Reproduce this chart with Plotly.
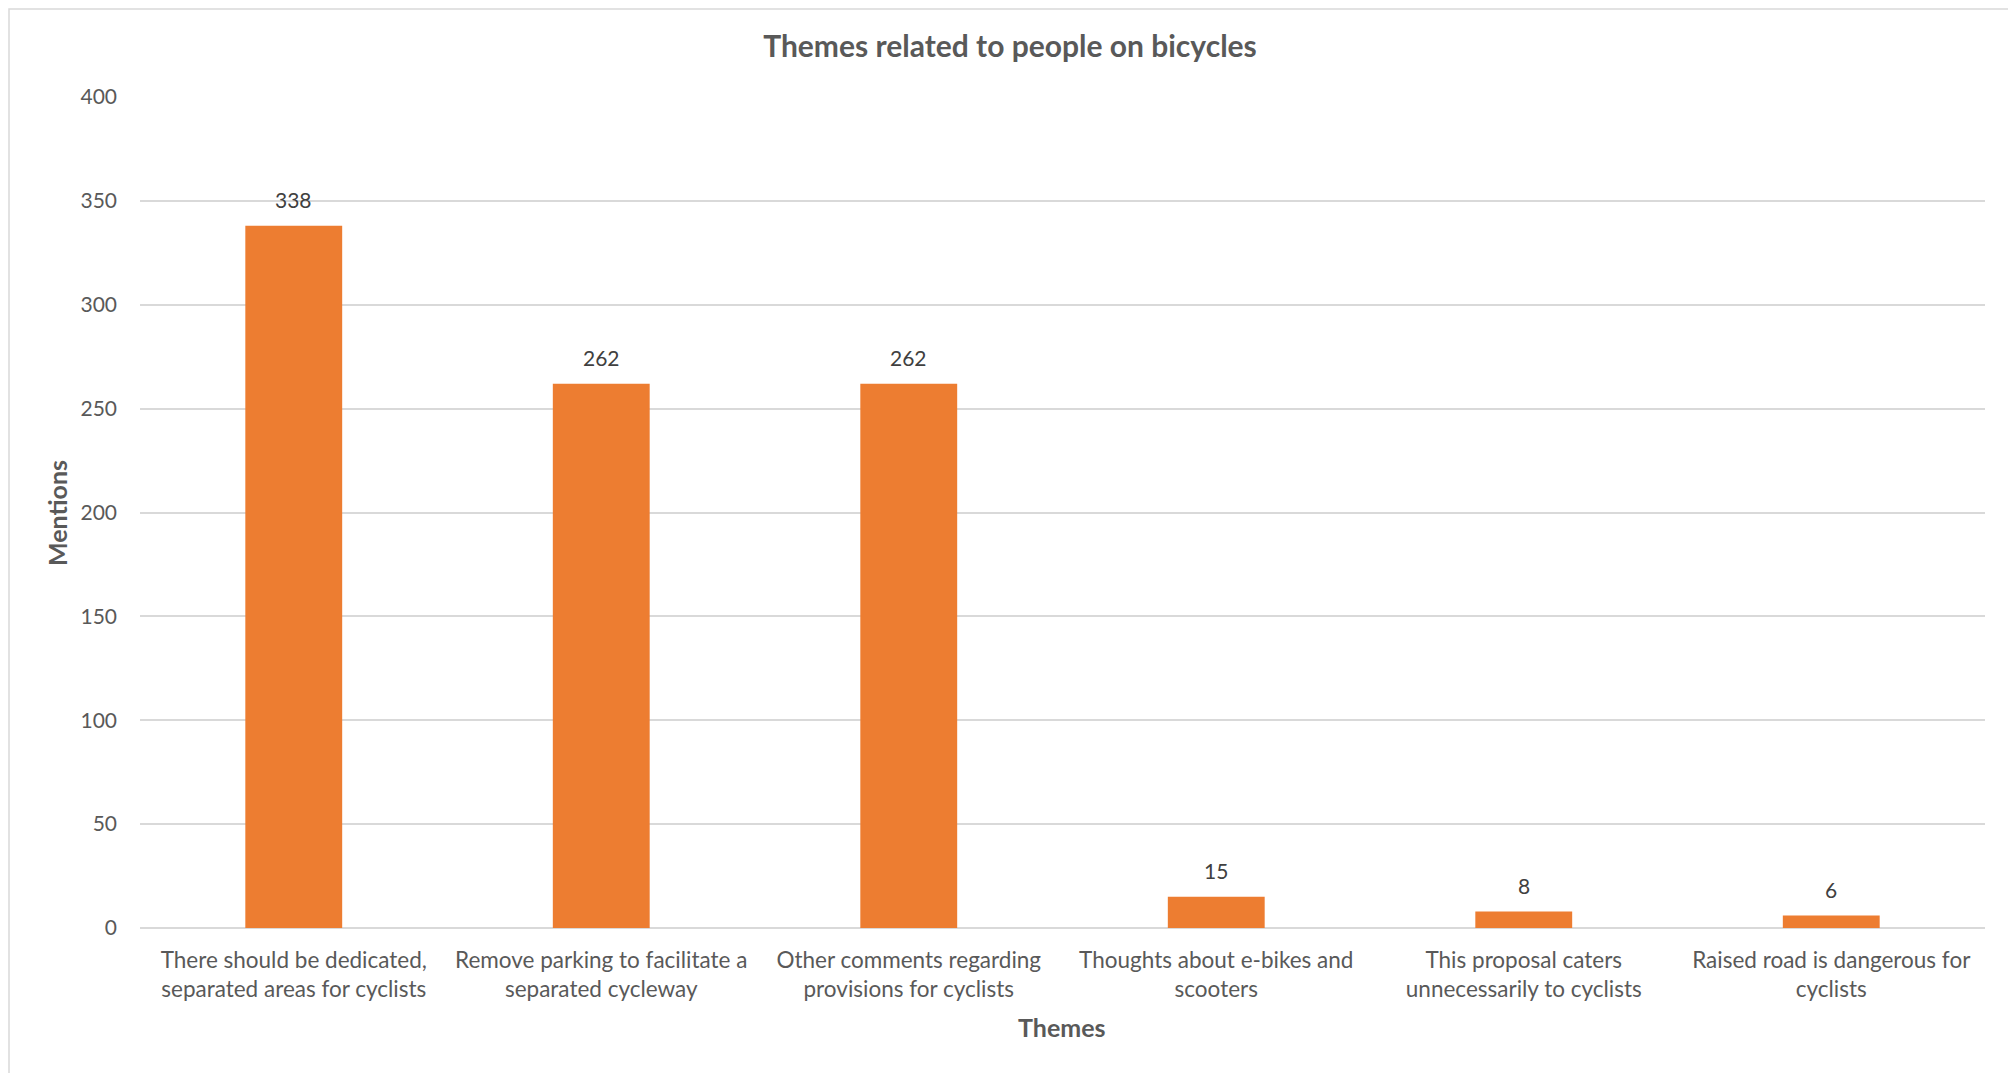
import plotly.graph_objects as go

categories = [
    "There should be dedicated,<br>separated areas for cyclists",
    "Remove parking to facilitate a<br>separated cycleway",
    "Other comments regarding<br>provisions for cyclists",
    "Thoughts about e-bikes and<br>scooters",
    "This proposal caters<br>unnecessarily to cyclists",
    "Raised road is dangerous for<br>cyclists",
]
mentions = [338, 262, 262, 15, 8, 6]
y_ticks = [0, 50, 100, 150, 200, 250, 300, 350, 400]

FONT = "Lato"
TXT = "#595959"
GRID = "#D9D9D9"
BAR = "#ED7D31"

OFF = 8  # browser body margin
PAGE_W, PAGE_H = 2016, 1073
W, H = PAGE_W - OFF, PAGE_H - OFF
L, R, T, B = 140 - OFF, 31, 89, 145
pw = W - L - R
ph = H - T - B


def px(xp):
    return (xp - 140) / pw


def py(yp):
    return (PAGE_H - B - yp) / ph


fig = go.Figure()
fig.add_trace(go.Bar(
    x=categories,
    y=mentions,
    marker=dict(color=BAR, line=dict(width=0)),
    cliponaxis=False,
    width=0.315,
    hoverinfo="x+y",
))

label_annotations = [
    dict(x=c, y=v, xref="x", yref="y", text=str(v), showarrow=False,
         xanchor="center", yanchor="middle", yshift=26,
         font=dict(family=FONT, size=21, color="#404040"))
    for c, v in zip(categories, mentions)
]

fig.update_layout(
    width=W, height=H,
    margin=dict(l=L, r=R, t=T, b=B),
    paper_bgcolor="white",
    plot_bgcolor="white",
    showlegend=False,
    font=dict(family=FONT, size=21, color=TXT),
    title=dict(
        text="<b>Themes related to people on bicycles</b>",
        x=(1010 - OFF) / W, xanchor="center",
        y=1 - (46 - OFF) / H, yanchor="middle",
        font=dict(family=FONT, size=30, color=TXT),
    ),
    xaxis=dict(
        showgrid=False,
        showline=False,
        ticks="",
        tickfont=dict(family=FONT, size=22.5, color=TXT),
        ticklabelstandoff=16,
    ),
    yaxis=dict(
        range=[0, 400],
        tickvals=y_ticks,
        showgrid=True,
        gridcolor=GRID,
        gridwidth=1.5,
        zeroline=True,
        zerolinecolor=GRID,
        zerolinewidth=1.5,
        showline=False,
        ticks="",
        tickfont=dict(family=FONT, size=21, color=TXT),
        ticklabelstandoff=22,
    ),
    annotations=label_annotations + [
        dict(text="<b>Mentions</b>", xref="paper", yref="paper",
             x=px(57), y=py(513), textangle=-90, showarrow=False,
             xanchor="center", yanchor="middle",
             font=dict(family=FONT, size=25, color=TXT)),
        dict(text="<b>Themes</b>", xref="paper", yref="paper",
             x=px(1062), y=py(1027), showarrow=False,
             xanchor="center", yanchor="middle",
             font=dict(family=FONT, size=25, color=TXT)),
    ],
    shapes=[
        dict(type="rect", xref="paper", yref="paper",
             x0=px(OFF + 1), x1=px(2012.5), y0=py(1090), y1=py(OFF + 1),
             line=dict(color=GRID, width=1.5), fillcolor="rgba(0,0,0,0)",
             layer="below"),
    ],
)

fig.write_html("out.html")
